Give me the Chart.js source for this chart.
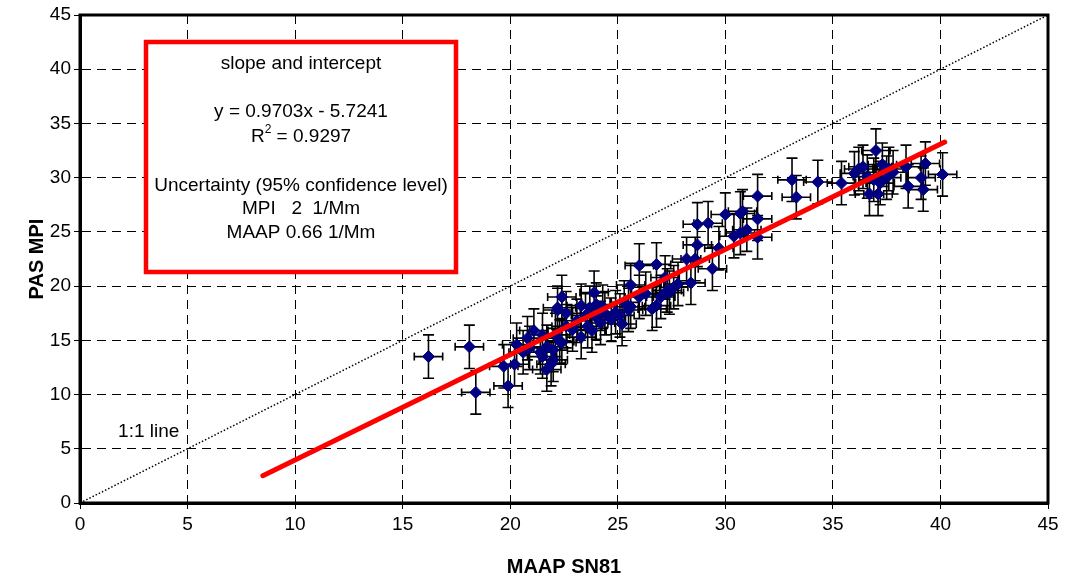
<!DOCTYPE html>
<html>
<head>
<meta charset="utf-8">
<script src="https://cdn.jsdelivr.net/npm/chart.js@4/dist/chart.umd.min.js"></script>
<style>
html,body{margin:0;padding:0;background:#fff;}
#wrap{width:1067px;height:579px;position:relative;}
</style>
</head>
<body>
<div id="wrap"><canvas id="c" width="1067" height="579"></canvas></div>
<script>
// ---- data ----
const maapX = [16.2,18.1,18.4,19.7,19.9,20.2,20.3,20.6,20.9,20.8,21.7,22.0,21.5,21.7,21.5,22.2,21.1,21.4,22.0,21.9,22.4,22.6,22.1,22.4,22.2,22.6,23.3,23.7,24.0,24.3,24.0,23.6,24.7,23.3,22.3,23.9,23.1,24.4,24.9,23.8,22.9,24.2,23.5,25.1,25.5,25.6,26.0,26.8,27.4,27.6,26.0,26.8,25.6,27.3,27.8,26.3,25.3,26.6,27.0,27.2,25.2,28.4,28.2,28.6,28.7,29.4,29.7,28.7,29.2,30.0,30.7,30.8,31.5,31.5,31.0,30.7,30.4,31.5,33.1,33.3,34.3,35.4,37.0,36.4,36.0,37.3,39.3,38.4,37.8,37.5,36.6,40.1,39.1,37.2,38.5,39.2,36.7,37.1,36.2,36.9,37.6];
const mpiY  = [13.5,14.4,10.2,12.6,10.8,12.8,14.6,13.9,14.3,15.2,12.3,13.2,13.5,14.4,15.5,17.8,15.9,13.9,14.1,12.8,14.8,16.3,15.5,19.0,18.0,17.5,18.2,18.0,18.3,18.1,17.1,16.3,16.9,15.3,14.9,19.4,16.8,17.5,17.6,15.9,16.0,16.6,17.3,17.3,17.8,18.1,19.0,18.2,19.4,19.9,21.9,22.0,20.1,19.6,20.2,19.3,18.5,17.9,19.0,20.8,16.5,20.3,22.5,22.5,23.8,21.6,23.5,25.7,25.8,26.6,26.7,26.9,28.3,26.2,25.2,24.9,24.6,24.5,29.8,28.2,29.6,29.5,32.5,31.0,30.4,31.2,31.3,31.0,30.5,30.0,30.1,30.3,30.0,29.5,29.2,28.9,28.5,28.5,30.8,29.8,30.8];
const xErr = 0.66;   // MAAP uncertainty (1/Mm)
const yErr = 2.0;    // MPI uncertainty (1/Mm)
const slope = 0.9703, intercept = -5.7241;
const fitX = [8.5, 40.2];
const oneToOneX = [0, 45];
const xTicks = [0,5,10,15,20,25,30,35,40,45];
const yTicks = [0,5,10,15,20,25,30,35,40,45];
const boxLines = ["slope and intercept","","y = 0.9703x - 5.7241","R2","","Uncertainty (95% confidence level)","MPI   2  1/Mm","MAAP 0.66 1/Mm"];
const lineLabel = "1:1 line";

const FONT = "'Liberation Sans', Arial, sans-serif";

const pts = maapX.map((x,i)=>({x:x,y:mpiY[i]}));
const fitPts = fitX.map(x=>({x:x,y:slope*x+intercept}));
const onePts = oneToOneX.map(x=>({x:x,y:x}));

const errorBars = {
  id:'errorBars',
  beforeDatasetsDraw(chart){
    const {ctx, scales:{x, y}} = chart;
    ctx.save();
    ctx.strokeStyle = '#000';
    ctx.lineWidth = 1.6;
    ctx.beginPath();
    for (let i=0;i<maapX.length;i++){
      const px = x.getPixelForValue(maapX[i]);
      const py = y.getPixelForValue(mpiY[i]);
      const x1 = x.getPixelForValue(maapX[i]-xErr), x2 = x.getPixelForValue(maapX[i]+xErr);
      const y1 = y.getPixelForValue(mpiY[i]-yErr), y2 = y.getPixelForValue(mpiY[i]+yErr);
      ctx.moveTo(x1,py); ctx.lineTo(x2,py);
      ctx.moveTo(x1,py-4); ctx.lineTo(x1,py+4);
      ctx.moveTo(x2,py-4); ctx.lineTo(x2,py+4);
      ctx.moveTo(px,y1); ctx.lineTo(px,y2);
      ctx.moveTo(px-5.5,y1); ctx.lineTo(px+5.5,y1);
      ctx.moveTo(px-5.5,y2); ctx.lineTo(px+5.5,y2);
    }
    ctx.stroke();
    ctx.restore();
  }
};

const annotations = {
  id:'annotations',
  afterDatasetsDraw(chart){
    const {ctx, chartArea:a, scales:{x, y}} = chart;
    ctx.save();
    // 1:1 label
    ctx.font = '19px ' + FONT;
    ctx.fillStyle = '#000';
    ctx.textAlign = 'left';
    ctx.textBaseline = 'middle';
    ctx.fillText(lineLabel, x.getPixelForValue(1.77), y.getPixelForValue(6.55));
    // text box
    const bx = a.left + 66, by = a.top + 27, bw = 310, bh = 230;
    ctx.fillStyle = '#fff';
    ctx.fillRect(bx, by, bw, bh);
    ctx.strokeStyle = '#ff0000';
    ctx.lineWidth = 4.5;
    ctx.strokeRect(bx, by, bw, bh);
    const cx = bx + bw/2;
    const lineYs = [22, 46, 70, 95, 119, 144, 167, 191];
    ctx.fillStyle = '#000';
    ctx.textAlign = 'center';
    const f = '19px ' + FONT, fs = '12px ' + FONT;
    for (let i=0;i<boxLines.length;i++){
      const t = boxLines[i];
      if (!t) continue;
      const ty = by + lineYs[i];
      if (t === 'R2'){
        ctx.font = f; const w1 = ctx.measureText('R').width;
        const rest = ' = 0.9297';
        const w3 = ctx.measureText(rest).width;
        ctx.font = fs; const w2 = ctx.measureText('2').width;
        let sx = cx - (w1+w2+w3)/2;
        ctx.textAlign = 'left';
        ctx.font = f; ctx.fillText('R', sx, ty);
        ctx.font = fs; ctx.fillText('2', sx+w1, ty-7);
        ctx.font = f; ctx.fillText(rest, sx+w1+w2, ty);
        ctx.textAlign = 'center';
      } else {
        ctx.font = f;
        ctx.fillText(t, cx, ty);
      }
    }
    ctx.restore();
  },
  afterDraw(chart){
    const {ctx, chartArea:a} = chart;
    ctx.save();
    ctx.strokeStyle = '#000';
    ctx.lineWidth = 3;
    ctx.strokeRect(a.left, a.top, a.right-a.left, a.bottom-a.top);
    ctx.restore();
  }
};

new Chart(document.getElementById('c'), {
  type:'scatter',
  data:{
    datasets:[
      {label:'data', data:pts, pointStyle:'rectRot', radius:6, backgroundColor:'#000080', borderColor:'#000080', borderWidth:1, order:3},
      {type:'line', label:'1:1', data:onePts, borderColor:'#000', borderWidth:1.5, borderDash:[1.5,2], pointRadius:0, fill:false, order:4},
      {type:'line', label:'fit', data:fitPts, borderColor:'#ff0000', borderWidth:5, borderCapStyle:'round', pointRadius:0, fill:false, order:1}
    ]
  },
  options:{
    responsive:false,
    animation:false,
    events:[],
    layout:{padding:{top:15,right:19,left:0,bottom:0}},
    plugins:{legend:{display:false}, tooltip:{enabled:false}},
    scales:{
      x:{
        type:'linear', min:0, max:45,
        afterBuildTicks(s){ s.ticks = xTicks.map(v=>({value:v})); },
        afterFit(s){ s.height = 76; },
        grid:{color:'#000', lineWidth:1, tickBorderDash:[], tickLength:6, tickColor:'#000', drawTicks:true},
        border:{display:true, color:'#000', width:3, dash:[9,6]},
        ticks:{color:'#000', font:{family:FONT, size:19}, padding:4, maxRotation:0},
        title:{display:true, text:'MAAP SN81', color:'#000', font:{family:FONT, size:20, weight:'bold'}, padding:{top:1,bottom:0}}
      },
      y:{
        type:'linear', min:0, max:45,
        afterBuildTicks(s){ s.ticks = yTicks.map(v=>({value:v})); },
        afterFit(s){ s.width = 80; },
        grid:{color:'#000', lineWidth:1, tickBorderDash:[], tickLength:6, tickColor:'#000', drawTicks:true},
        border:{display:true, color:'#000', width:3, dash:[9,6]},
        ticks:{color:'#000', font:{family:FONT, size:19}, padding:3},
        title:{display:true, text:'PAS MPI', color:'#000', font:{family:FONT, size:20, weight:'bold'}, padding:{top:25,bottom:0}}
      }
    }
  },
  plugins:[errorBars, annotations]
});
</script>
</body>
</html>
